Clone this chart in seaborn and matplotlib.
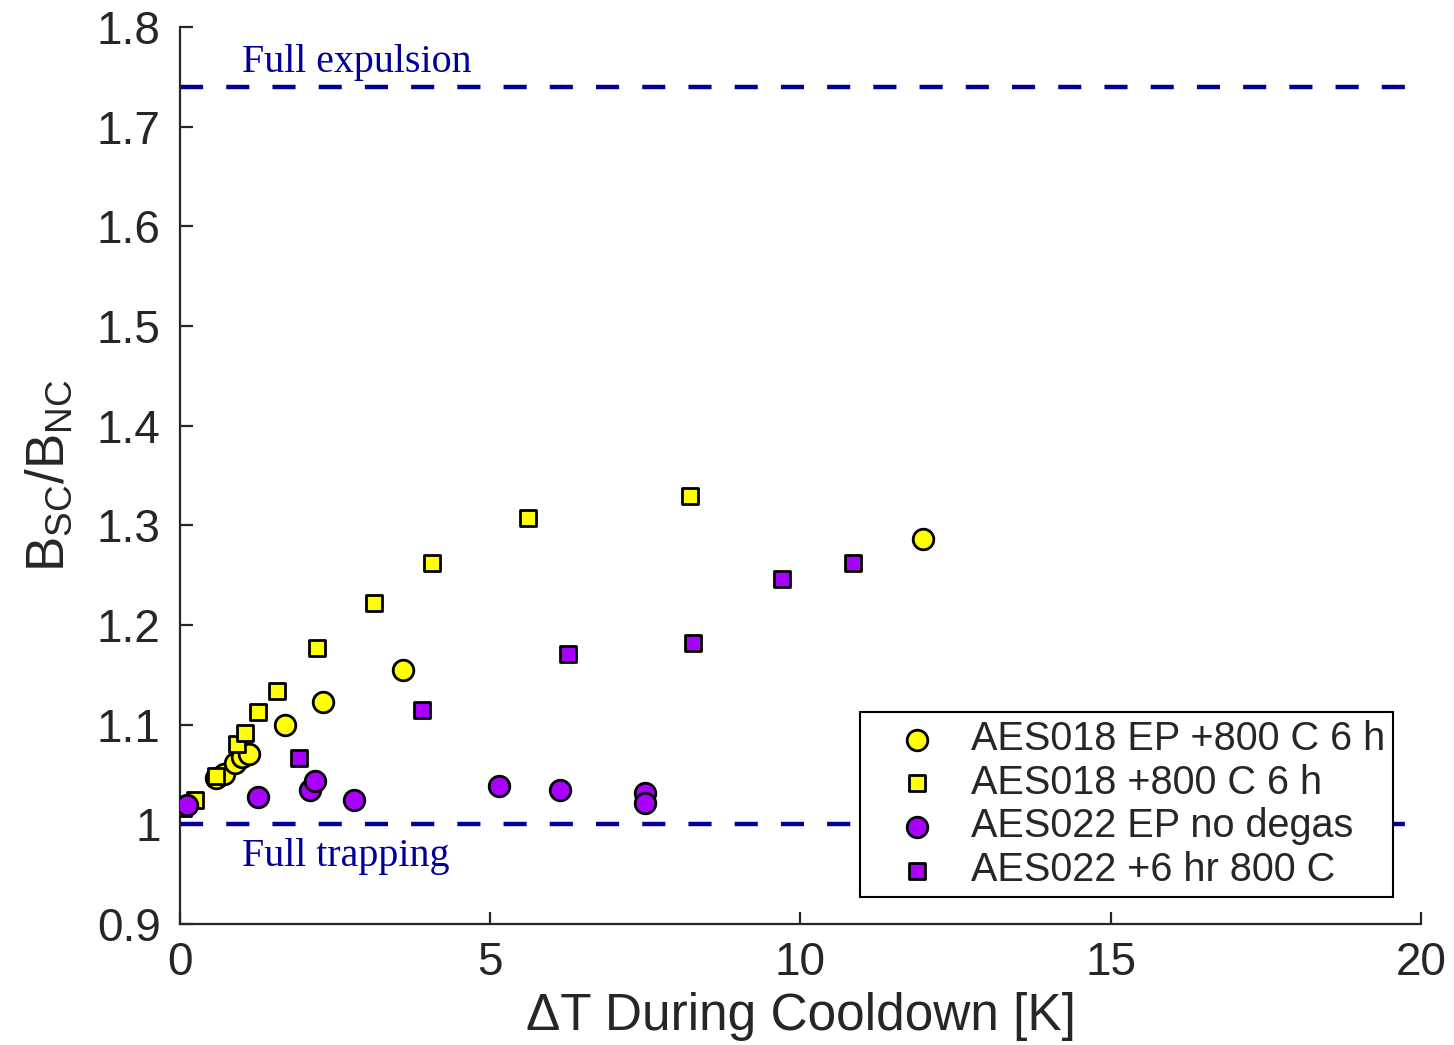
import matplotlib
matplotlib.use("Agg")
import matplotlib.pyplot as plt
import seaborn as sns
import pandas as pd

# ---- data ----
ep018_x = [0.58, 0.71, 0.89, 1.00, 1.11, 1.69, 2.30, 3.59, 11.97]
ep018_y = [1.046, 1.050, 1.062, 1.068, 1.071, 1.100, 1.123, 1.155, 1.286]

a018_x = [0.05, 0.24, 0.58, 0.92, 1.05, 1.26, 1.56, 2.21, 3.13, 4.06, 5.61, 8.22]
a018_y = [1.016, 1.024, 1.048, 1.081, 1.092, 1.113, 1.134, 1.177, 1.222, 1.262, 1.307, 1.329]

ep022_x = [0.11, 1.26, 2.10, 2.18, 2.81, 5.14, 6.12, 7.49, 7.49]
ep022_y = [1.019, 1.027, 1.034, 1.043, 1.024, 1.038, 1.034, 1.031, 1.021]

a022_x = [1.92, 3.90, 6.25, 8.27, 9.70, 10.85]
a022_y = [1.067, 1.115, 1.171, 1.182, 1.246, 1.262]

labels = ["AES018 EP +800 C 6 h", "AES018 +800 C 6 h",
          "AES022 EP no degas", "AES022 +6 hr 800 C"]
x_ticks = [0, 5, 10, 15, 20]
y_ticks = [0.9, 1.0, 1.1, 1.2, 1.3, 1.4, 1.5, 1.6, 1.7, 1.8]
y_tick_labels = ["0.9", "1", "1.1", "1.2", "1.3", "1.4", "1.5", "1.6", "1.7", "1.8"]
expulsion_level = 1.74
trapping_level = 1.0

sns.set_theme(style="white")
plt.rcParams['font.family'] = ['Liberation Sans', 'DejaVu Sans']
plt.rcParams['mathtext.fontset'] = 'custom'
plt.rcParams['mathtext.rm'] = 'Liberation Sans'
plt.rcParams['mathtext.it'] = 'Liberation Sans'
plt.rcParams['mathtext.sf'] = 'Liberation Sans'

fig = plt.figure(figsize=(14.54, 10.45), dpi=100)
ax = fig.add_axes([0.1238, 0.1158, 0.8535, 0.8584])

yellow = "#FFFF00"
purple = "#AA00FF"
line_col = "#000099"

series = [
    (ep018_x, ep018_y, labels[0], yellow, "o", 220),
    (a018_x, a018_y, labels[1], yellow, "s", 140),
    (ep022_x, ep022_y, labels[2], purple, "o", 220),
    (a022_x, a022_y, labels[3], purple, "s", 140),
]
for xs, ys, lab, col, mk, s in series:
    df = pd.DataFrame({"x": xs, "y": ys})
    sns.scatterplot(data=df, x="x", y="y", ax=ax, color=col, marker=mk, s=s,
                    edgecolor="black", linewidth=2.0, label=lab, zorder=3)

ax.axhline(expulsion_level, color=line_col, lw=3.2, linestyle=(0, (5.2, 5.2)), zorder=2)
ax.axhline(trapping_level, color=line_col, lw=3.2, linestyle=(0, (5.2, 5.2)), zorder=2)

ax.text(1.0, 1.755, "Full expulsion", family="Liberation Serif", fontsize=28.8,
        color=line_col, va="baseline", ha="left")
ax.text(1.0, 0.958, "Full trapping", family="Liberation Serif", fontsize=28.8,
        color=line_col, va="baseline", ha="left")

ax.set_xlim(0, 20)
ax.set_ylim(0.9, 1.8)
ax.set_xticks(x_ticks)
ax.set_xticklabels([str(t) for t in x_ticks])
ax.set_yticks(y_ticks)
ax.set_yticklabels(y_tick_labels)

for side in ["top", "right"]:
    ax.spines[side].set_visible(False)
for side in ["left", "bottom"]:
    ax.spines[side].set_color("#262626")
    ax.spines[side].set_linewidth(1.6)

ax.tick_params(axis="both", which="major", bottom=True, left=True, direction="in",
               length=9, width=1.6, colors="#262626",
               labelsize=33, labelcolor="#262626")
ax.tick_params(axis="y", pad=14)
ax.tick_params(axis="x", pad=12)

ax.set_xlabel("ΔT During Cooldown [K]", fontsize=37, color="#262626", labelpad=5)
ax.set_ylabel(r"$\mathregular{B_{SC}/B_{NC}}$", fontsize=38, color="#262626", labelpad=16)

leg = ax.legend(loc="lower right", bbox_to_anchor=(0.9774, 0.030), fontsize=28.5,
                frameon=True, fancybox=False, edgecolor="black", framealpha=1,
                labelspacing=0.145, handletextpad=0.1, borderpad=0.2,
                borderaxespad=0, handlelength=2.5, markerscale=1.0)
leg.get_frame().set_linewidth(1.5)

fig.savefig("out.png", dpi=100)
